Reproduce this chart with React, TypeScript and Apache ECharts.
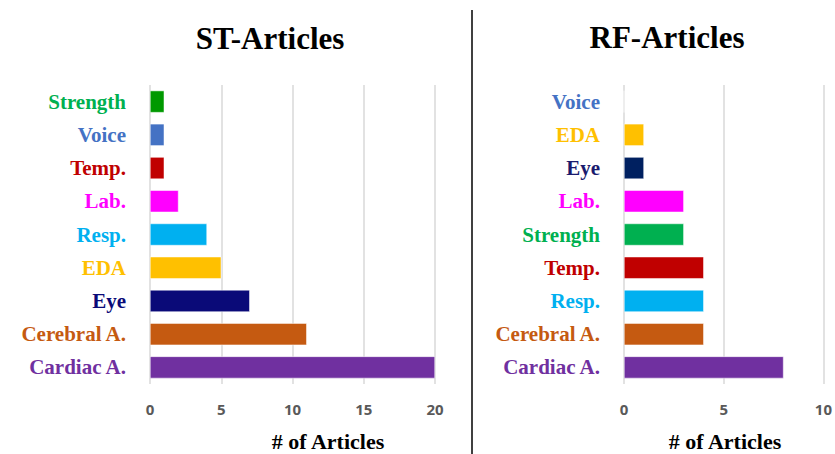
import React, { useEffect, useRef } from "react";
import * as echarts from "echarts";

const stCategories = ["Strength", "Voice", "Temp.", "Lab.", "Resp.", "EDA", "Eye", "Cerebral A.", "Cardiac A."];
const stValues = [1, 1, 1, 2, 4, 5, 7, 11, 20];
const stBarColors = ["#009900", "#4472C4", "#C00000", "#FF00FF", "#00B0F0", "#FFC000", "#0A0A78", "#C55A11", "#7030A0"];
const stLabelColors = ["#00B050", "#4472C4", "#C00000", "#FF00FF", "#00B0F0", "#FFC000", "#0A0A78", "#C55A11", "#7030A0"];

const rfCategories = ["Voice", "EDA", "Eye", "Lab.", "Strength", "Temp.", "Resp.", "Cerebral A.", "Cardiac A."];
const rfValues = [0, 1, 1, 3, 3, 4, 4, 4, 8];
const rfBarColors = ["#4472C4", "#FFC000", "#002060", "#FF00FF", "#00B050", "#C00000", "#00B0F0", "#C55A11", "#7030A0"];
const rfLabelColors = ["#4472C4", "#FFC000", "#1A1A6E", "#FF00FF", "#00B050", "#C00000", "#00B0F0", "#C55A11", "#7030A0"];

const stTicks = { min: 0, max: 20, interval: 5 };
const rfTicks = { min: 0, max: 10, interval: 5 };

const SERIF = "'Liberation Serif', 'DejaVu Serif', serif";
const SANS = "'Open Sans', 'Noto Sans', sans-serif";

export default function App() {
  const ref = useRef<HTMLDivElement>(null);
  useEffect(() => {
    if (!ref.current) return;
    const chart = echarts.init(ref.current, null, { renderer: "svg" });
    const xAxisCommon = (t: { min: number; max: number; interval: number }, gridIndex: number) => ({
      type: "value" as const,
      gridIndex,
      min: t.min,
      max: t.max,
      interval: t.interval,
      axisLine: { show: false },
      axisTick: { show: false },
      splitLine: { show: true, lineStyle: { color: "#D9D9D9", width: 1.5 } },
      axisLabel: { color: "#595959", fontSize: 15, fontWeight: "bold", fontFamily: SANS, margin: 17 },
    });
    const yAxisCommon = (cats: string[], colors: string[], gridIndex: number) => ({
      type: "category" as const,
      gridIndex,
      data: cats,
      inverse: true,
      axisLine: { show: false },
      axisTick: { show: false },
      axisLabel: {
        margin: 24,
        fontSize: 21,
        fontWeight: "bold",
        fontFamily: SERIF,
        color: (_v: any, i: number) => colors[i],
      },
    });
    chart.setOption({
      animation: false,
      backgroundColor: "#FFFFFF",
      grid: [
        { left: 150, top: 85, width: 285, height: 299 },
        { left: 624, top: 85, width: 202, height: 299 },
      ],
      xAxis: [xAxisCommon(stTicks, 0), xAxisCommon(rfTicks, 1)],
      yAxis: [yAxisCommon(stCategories, stLabelColors, 0), yAxisCommon(rfCategories, rfLabelColors, 1)],
      series: [
        {
          type: "bar",
          xAxisIndex: 0,
          yAxisIndex: 0,
          barWidth: 22,
          data: stValues.map((v, i) => ({ value: v, itemStyle: { color: stBarColors[i] } })),
          itemStyle: { borderColor: "#FFFFFF", borderWidth: 0.5 },
        },
        {
          type: "bar",
          xAxisIndex: 1,
          yAxisIndex: 1,
          barWidth: 22,
          data: rfValues.map((v, i) => ({ value: v, itemStyle: { color: rfBarColors[i] } })),
          itemStyle: { borderColor: "#FFFFFF", borderWidth: 0.5 },
        },
      ],
      graphic: [
        {
          type: "text",
          x: 270,
          y: 38,
          style: { text: "ST-Articles", fill: "#000", font: `bold 31px ${SERIF}`, textAlign: "center", textVerticalAlign: "middle" },
        },
        {
          type: "text",
          x: 667,
          y: 37,
          style: { text: "RF-Articles", fill: "#000", font: `bold 31px ${SERIF}`, textAlign: "center", textVerticalAlign: "middle" },
        },
        {
          type: "text",
          x: 328,
          y: 441,
          style: { text: "# of Articles", fill: "#000", font: `bold 22px ${SERIF}`, textAlign: "center", textVerticalAlign: "middle" },
        },
        {
          type: "text",
          x: 725,
          y: 441,
          style: { text: "# of Articles", fill: "#000", font: `bold 22px ${SERIF}`, textAlign: "center", textVerticalAlign: "middle" },
        },
        {
          type: "line",
          shape: { x1: 472, y1: 10, x2: 472, y2: 454 },
          style: { stroke: "#000", lineWidth: 1.5 },
        },
      ],
    });
    return () => chart.dispose();
  }, []);
  return <div ref={ref} style={{ position: "fixed", left: 0, top: 0, width: 835, height: 454 }} />;
}
